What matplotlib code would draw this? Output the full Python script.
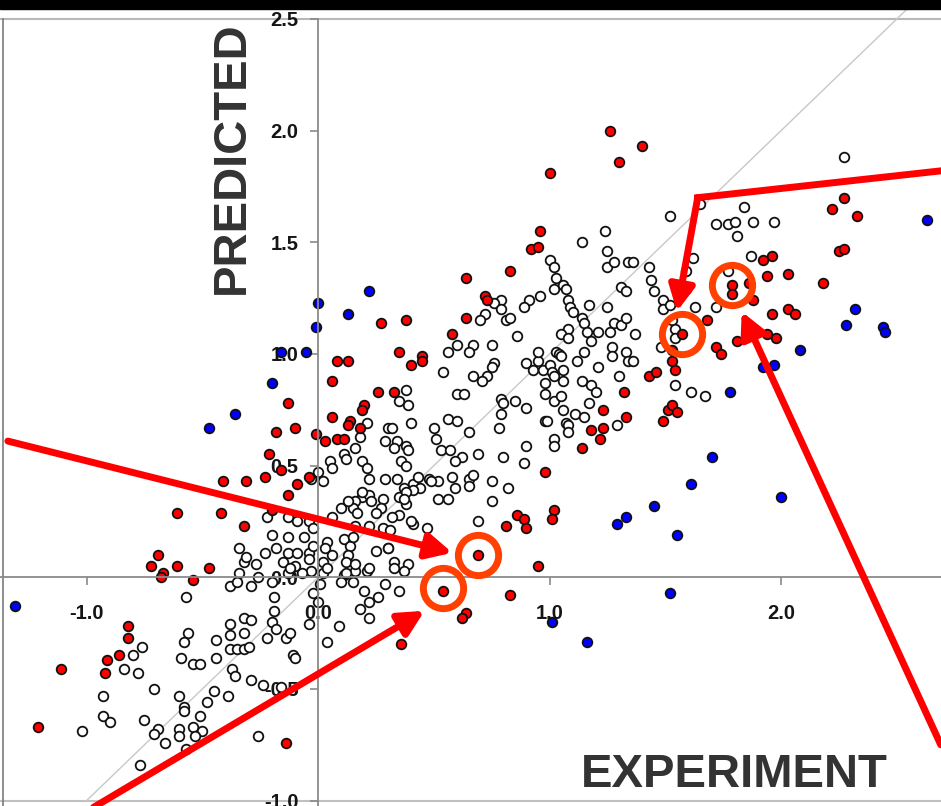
import numpy as np
import matplotlib
matplotlib.use('Agg')
from matplotlib import pyplot as plt
from matplotlib.patches import Rectangle

plt.rcParams['font.family'] = ['Liberation Sans', 'DejaVu Sans']

##############################################################################
# data (experiment, predicted)

white_pts = np.array([
    # lower left
    (-0.34, 0.02), (-0.26, 0.00), (-0.38, -0.04), (-0.35, -0.02), (-0.29, -0.04),
    (-0.20, -0.02), (-0.13, 0.02), (-0.57, -0.09), (-0.19, -0.09), (-0.19, -0.15),
    (-0.32, -0.18), (-0.29, -0.19), (-0.38, -0.21), (-0.20, -0.20), (-0.18, -0.23),
    (-0.56, -0.25), (-0.58, -0.29), (-0.44, -0.28), (-0.38, -0.26), (-0.32, -0.25),
    (-0.38, -0.32), (-0.35, -0.32), (-0.32, -0.32), (-0.30, -0.31), (-0.22, -0.27),
    (-0.14, -0.27), (-0.12, -0.25), (-0.11, -0.35), (-0.10, -0.36), (-0.59, -0.36),
    (-0.54, -0.39), (-0.51, -0.39), (-0.44, -0.36), (-0.37, -0.41), (-0.36, -0.44),
    (-0.29, -0.46), (-0.24, -0.48), (-0.16, -0.49), (-0.71, -0.50), (-0.60, -0.53),
    (-0.45, -0.51), (-0.39, -0.53), (-0.48, -0.56), (-0.58, -0.58), (-0.58, -0.60),
    (-0.51, -0.62), (-0.69, -0.68), (-0.71, -0.70), (-0.60, -0.68), (-0.60, -0.71),
    (-0.54, -0.67), (-0.50, -0.69), (-0.53, -0.71), (-0.66, -0.74), (-0.26, -0.71),
    (-0.57, -0.77), (-0.93, -0.53), (-0.93, -0.62), (-0.90, -0.65), (-1.02, -0.69),
    (-0.84, -0.41), (-0.78, -0.43), (-0.80, -0.35), (-0.76, -0.31), (-0.75, -0.64),
    (-0.77, -0.84),
    # around the origin
    (-0.03, 0.03), (-0.07, 0.02), (0.02, 0.02), (0.01, -0.03), (-0.02, -0.07),
    (0.00, -0.11), (-0.04, -0.21), (0.04, -0.29), (0.09, -0.22), (0.11, 0.01),
    (0.10, -0.02), (0.15, -0.02), (0.16, 0.03), (0.21, 0.03), (0.35, -0.06),
    (0.26, -0.09), (0.22, -0.11), (0.18, -0.14), (0.22, -0.18),
    # centre
    (0.21, 0.69), (0.30, 0.67), (0.32, 0.67), (0.18, 0.63), (0.29, 0.61),
    (0.34, 0.61), (0.16, 0.58), (0.33, 0.58), (0.11, 0.55), (0.12, 0.53),
    (0.05, 0.52), (0.06, 0.49), (0.19, 0.52), (0.21, 0.49), (0.22, 0.44),
    (0.29, 0.44), (0.34, 0.44), (0.00, 0.47), (-0.03, 0.44), (0.02, 0.43),
    (0.19, 0.36), (0.16, 0.34), (0.22, 0.37), (0.10, 0.31), (0.15, 0.31),
    (0.17, 0.29), (0.28, 0.35), (0.27, 0.31), (0.25, 0.29), (0.35, 0.36),
    (0.35, 0.28), (0.06, 0.27), (-0.13, 0.27), (-0.09, 0.25), (-0.04, 0.25),
    (-0.02, 0.22), (-0.20, 0.19), (-0.13, 0.18), (-0.06, 0.18), (-0.34, 0.13),
    (-0.23, 0.11), (-0.18, 0.13), (-0.13, 0.11), (-0.09, 0.11), (-0.04, 0.11),
    (-0.02, 0.14), (0.04, 0.16), (0.03, 0.13), (0.11, 0.17), (0.14, 0.14),
    (0.13, 0.10), (0.12, 0.07), (0.25, 0.12), (0.30, 0.13), (0.33, 0.07),
    (-0.32, 0.07), (-0.27, 0.06), (-0.15, 0.07), (-0.10, 0.05), (-0.04, 0.08),
    (0.02, 0.07), (0.12, 0.02), (0.22, 0.04), (0.13, 0.34), (0.19, 0.38),
    (0.23, 0.34), (0.32, 0.27), (0.28, 0.22), (0.22, 0.23), (0.16, 0.23),
    (-0.31, 0.09), (-0.12, 0.04), (0.04, 0.04), (0.06, 0.10), (0.16, 0.06),
    (0.39, 0.06), (-0.22, 0.27), (0.38, 0.59), (0.39, 0.57), (0.36, 0.52),
    (0.38, 0.50), (0.40, 0.69), (0.39, 0.77), (0.35, 0.79), (0.41, 0.24),
    (0.47, 0.22), (0.15, 0.18), (0.41, 0.42), (0.37, 0.40), (0.43, 0.45),
    (0.48, 0.44), (0.52, 0.43), (0.52, 0.35), (0.56, 0.35), (0.58, 0.45),
    (0.59, 0.40), (0.56, 0.71), (0.60, 0.70), (0.50, 0.67), (0.51, 0.62),
    (0.53, 0.57), (0.57, 0.57), (0.62, 0.54), (0.59, 0.52), (0.65, 0.44),
    (0.38, 0.33), (0.65, 0.65), (0.78, 0.67), (0.69, 0.55), (0.80, 0.54),
    (0.90, 0.59), (0.89, 0.51), (1.02, 0.62), (1.02, 0.59), (0.98, 0.70),
    (1.07, 0.69), (1.08, 0.68), (0.49, 0.43), (0.44, 0.40), (0.41, 0.39),
    (0.67, 0.46), (0.65, 0.41), (0.75, 0.43), (0.82, 0.40), (0.38, 0.38),
    (0.37, 0.35), (0.75, 0.34), (0.40, 0.25), (0.31, 0.21), (0.69, 0.25),
    (0.30, 0.13), (0.33, 0.04), (0.37, 0.03), (0.29, -0.03), (0.20, -0.06),
    # upper centre
    (1.24, 1.55), (1.14, 1.50), (1.25, 1.46), (1.00, 1.42), (1.02, 1.39),
    (1.25, 1.39), (1.28, 1.41), (1.34, 1.41), (1.03, 1.34), (1.02, 1.29),
    (1.06, 1.31), (1.07, 1.29), (1.31, 1.30), (1.33, 1.28), (0.96, 1.26),
    (0.91, 1.24), (0.89, 1.21), (0.79, 1.24), (0.76, 1.23), (0.79, 1.20),
    (1.08, 1.24), (1.09, 1.21), (1.10, 1.19), (1.17, 1.22), (1.25, 1.21),
    (0.72, 1.18), (0.70, 1.15), (0.81, 1.15), (0.83, 1.16), (1.14, 1.16),
    (1.15, 1.14), (1.16, 1.10), (1.18, 1.06), (1.21, 1.10), (1.26, 1.10),
    (1.28, 1.14), (1.31, 1.13), (1.33, 1.16), (1.08, 1.11), (1.05, 1.09),
    (1.08, 1.07), (0.86, 1.08), (0.75, 1.04), (0.67, 1.04), (0.60, 1.04),
    (0.65, 1.01), (0.56, 1.01), (1.03, 1.01), (1.04, 1.00), (1.05, 0.99),
    (1.12, 0.97), (1.27, 1.03), (1.27, 0.99), (1.33, 1.01), (1.34, 0.97),
    (0.76, 0.96), (0.75, 0.94), (0.73, 0.90), (0.71, 0.88), (0.67, 0.90),
    (0.54, 0.92), (0.90, 0.96), (0.93, 0.93), (0.95, 0.97), (0.97, 0.93),
    (1.00, 0.95), (1.01, 0.92), (1.02, 0.90), (1.06, 0.88), (1.21, 0.94),
    (1.14, 0.88), (1.18, 0.86), (1.20, 0.83), (1.30, 0.90), (0.98, 0.82),
    (1.02, 0.79), (1.05, 0.81), (1.06, 0.75), (1.11, 0.73), (1.17, 0.78),
    (1.15, 0.72), (0.79, 0.80), (0.80, 0.78), (0.85, 0.79), (0.90, 0.76),
    (0.79, 0.73), (0.99, 0.70), (0.60, 0.82), (0.63, 0.82), (0.38, 0.84),
    (1.29, 0.68), (1.08, 0.65),
    # upper right
    (2.27, 1.88), (1.52, 1.62), (1.65, 1.67), (1.84, 1.66), (1.72, 1.58),
    (1.77, 1.58), (1.80, 1.59), (1.88, 1.59), (1.97, 1.59), (1.81, 1.53),
    (1.36, 1.41), (1.43, 1.39), (1.44, 1.33), (1.45, 1.28), (1.62, 1.43),
    (1.87, 1.44), (1.77, 1.37), (1.49, 1.24), (1.49, 1.20), (1.52, 1.22),
    (1.53, 1.15), (1.54, 1.11), (1.54, 1.07), (1.63, 1.21), (1.59, 1.37),
    (1.59, 1.29), (1.48, 1.03), (1.37, 1.09), (1.36, 0.97), (1.15, 1.01),
    (1.06, 0.93), (0.98, 0.87), (0.95, 1.01), (1.72, 1.21), (1.61, 0.83),
    (1.54, 0.86), (1.67, 0.81),
])

red_pts = np.array([
    (0.64, 1.34), (0.64, 1.16), (0.27, 1.14), (0.38, 1.15), (0.58, 1.09),
    (0.35, 1.01), (0.45, 0.99), (0.45, 0.97), (0.40, 0.95), (0.08, 0.97),
    (0.13, 0.97), (0.06, 0.88), (0.26, 0.83), (0.33, 0.83), (1.26, 2.00),
    (1.40, 1.93), (1.30, 1.86), (1.00, 1.81), (0.96, 1.55), (0.92, 1.47),
    (0.95, 1.48), (0.83, 1.37), (0.72, 1.26), (0.73, 1.24), (2.27, 1.70),
    (2.22, 1.65), (2.33, 1.62), (2.25, 1.46), (2.27, 1.47), (2.18, 1.32),
    (1.92, 1.42), (1.96, 1.44), (1.94, 1.35), (2.03, 1.36), (1.86, 1.32),
    (1.79, 1.31), (1.79, 1.27), (1.88, 1.24), (1.96, 1.18), (2.03, 1.20),
    (2.06, 1.18), (1.57, 1.09), (1.68, 1.15), (1.81, 1.06), (1.94, 1.09),
    (1.98, 1.07), (1.72, 1.03), (1.74, 1.00), (1.53, 1.02), (1.53, 0.97),
    (1.54, 0.93), (1.43, 0.90), (1.46, 0.92), (1.32, 0.83), (1.23, 0.75),
    (1.33, 0.72), (1.51, 0.75), (1.53, 0.77), (1.55, 0.74), (1.49, 0.70),
    (1.18, 0.66), (1.23, 0.67), (1.22, 0.62), (1.14, 0.58), (0.98, 0.47),
    (0.86, 0.28), (0.89, 0.26), (0.90, 0.22), (0.81, 0.23), (1.02, 0.30),
    (1.01, 0.26), (0.69, 0.10), (0.95, 0.05), (0.83, -0.08), (0.64, -0.16),
    (0.62, -0.18), (0.54, -0.06), (0.36, -0.30), (-0.13, 0.78), (0.20, 0.77),
    (0.19, 0.75), (0.06, 0.72), (0.14, 0.70), (0.13, 0.68), (0.18, 0.67),
    (-0.10, 0.67), (-0.18, 0.65), (-0.01, 0.64), (0.03, 0.61), (0.08, 0.62),
    (0.11, 0.62), (-0.21, 0.55), (-0.16, 0.48), (-0.41, 0.43), (-0.31, 0.43),
    (-0.23, 0.45), (-0.04, 0.45), (-0.09, 0.42), (-0.13, 0.37), (-0.61, 0.29),
    (-0.42, 0.29), (-0.32, 0.23), (-0.20, 0.30), (-0.69, 0.10), (-0.72, 0.05),
    (-0.61, 0.05), (-0.47, 0.04), (-0.67, 0.02), (-0.68, 0.00), (-0.54, -0.01),
    (-0.82, -0.22), (-0.82, -0.27), (-0.86, -0.35), (-0.91, -0.37), (-0.92, -0.43),
    (-1.11, -0.41), (-1.21, -0.67), (-0.14, -0.74),
])

blue_pts = np.array([
    (-1.31, -0.13), (-0.47, 0.67), (-0.36, 0.73), (-0.20, 0.87), (-0.16, 1.01),
    (-0.05, 1.01), (-0.01, 1.12), (0.00, 1.23), (0.13, 1.18), (0.22, 1.28),
    (2.63, 1.60), (2.32, 1.20), (2.28, 1.13), (2.44, 1.12), (2.45, 1.10),
    (2.08, 1.02), (1.92, 0.94), (1.97, 0.95), (1.78, 0.83), (1.70, 0.54),
    (1.61, 0.42), (2.00, 0.36), (1.45, 0.32), (1.33, 0.27), (1.29, 0.24),
    (1.55, 0.19), (1.52, -0.07), (1.01, -0.20), (1.16, -0.29),
])

x_ticks = [-1.0, 0.0, 1.0, 2.0]
y_ticks = [2.5, 2.0, 1.5, 1.0, 0.5, 0.0, -0.5, -1.0]

# highlighted points (rings) and the arrows pointing at them
ring_x = [0.69, 0.54, 1.57, 1.79]
ring_y = [0.10, -0.05, 1.09, 1.31]
arrow_tails = [(-1.34, 0.61), (-0.97, -1.03), (1.64, 1.70), (2.69, -0.75)]
arrow_tips = [(0.58, 0.11), (0.46, -0.15), (1.55, 1.19), (1.83, 1.19)]
bent_leg = ([2.69, 1.64], [1.82, 1.70])

##############################################################################
fig = plt.figure(figsize=(9.41, 8.06), dpi=100)
ax = fig.add_axes([0, 0, 1, 787 / 806])
ax.set_xlim(-1.374, 2.691)
ax.set_ylim(-1.024, 2.5)

# axes cross at the origin
for side in ['top', 'right']:
    ax.spines[side].set_visible(False)
for side in ['left', 'bottom']:
    ax.spines[side].set_position(('data', 0))
    ax.spines[side].set_color('#8a8a8a')
    ax.spines[side].set_linewidth(1.3)
ax.set_axisbelow(True)

ax.set_xticks(x_ticks)
ax.set_xticklabels(['%.1f' % t for t in x_ticks])
ax.set_yticks(y_ticks)
ax.set_yticklabels(['%.1f' % t for t in y_ticks])
ax.tick_params(direction='out', length=6, width=1.2, color='#8a8a8a',
               labelsize=14.5, labelcolor='#151515')
ax.tick_params(axis='x', pad=13)
ax.tick_params(axis='y', pad=8)
for lab in ax.get_xticklabels() + ax.get_yticklabels():
    lab.set_fontweight('bold')

# frame of the plot box
ax.axhline(2.5, color='#b8b8b8', lw=1.5, clip_on=False, zorder=0.5)
ax.axhline(-1.0, color='#c0c0c0', lw=1.5, clip_on=False, zorder=0.5)
ax.axvline(-1.36, color='#7a7a7a', lw=1.2, clip_on=False, zorder=0.5)

# y = x line
ax.plot([-1.0, 2.55], [-1.0, 2.55], color='#c8c8c8', lw=1.0,
        clip_on=False, zorder=0.8)

ms = 48
ax.scatter(white_pts[:, 0], white_pts[:, 1], s=ms, facecolor='white',
           edgecolor='#111111', linewidth=1.3, zorder=2)
ax.scatter(red_pts[:, 0], red_pts[:, 1], s=ms, facecolor='#ff0000',
           edgecolor='#111111', linewidth=1.3, zorder=2.1)
ax.scatter(blue_pts[:, 0], blue_pts[:, 1], s=ms, facecolor='#0000ff',
           edgecolor='#111111', linewidth=1.3, zorder=2.1)

# rings
ax.plot(ring_x, ring_y, 'o', ms=29, mfc='none', mec='#ff4000', mew=5,
        linestyle='none', zorder=4)

# arrows
ax.plot(bent_leg[0], bent_leg[1], color='#ff0000', lw=5,
        solid_capstyle='projecting', clip_on=False, zorder=5)
for tail, tip in zip(arrow_tails, arrow_tips):
    ax.annotate('', xy=tip, xytext=tail, annotation_clip=False, zorder=5,
                arrowprops=dict(arrowstyle='-|>,head_length=0.75,head_width=0.38',
                                color='#ff0000', lw=5, mutation_scale=20,
                                shrinkA=0, shrinkB=0))

# axis names
fig.text(232 / 941, 1 - 158 / 806, 'PREDICTED', rotation=90, ha='center',
         va='center', fontsize=34, fontweight='bold', color='#333333')
fig.text(734 / 941, 1 - 775 / 806, 'EXPERIMENT', ha='center', va='center',
         fontsize=34, fontweight='bold', color='#333333')

# black strip on top
fig.add_artist(Rectangle((0, 1 - 9 / 806), 1, 9 / 806,
                         transform=fig.transFigure, color='black'))

fig.savefig('out.png', dpi=100)
